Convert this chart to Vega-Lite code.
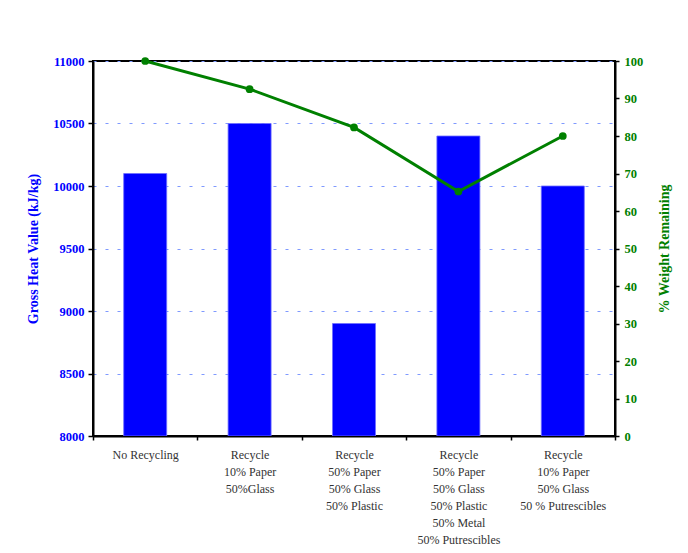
{
  "$schema": "https://vega.github.io/schema/vega-lite/v6.json",
  "width": 522,
  "height": 375,
  "autosize": {"type": "none"},
  "padding": {"left": 93, "top": 61, "right": 73, "bottom": 117},
  "background": "white",
  "config": {
    "view": {"stroke": "black", "strokeWidth": 2},
    "font": "Liberation Serif"
  },
  "data": {
    "values": [
      {"scenario": "No Recycling", "heat": 10100, "weight": 100},
      {"scenario": "Recycle|10% Paper|50%Glass", "heat": 10500, "weight": 92.5},
      {"scenario": "Recycle|50% Paper|50% Glass|50% Plastic", "heat": 8900, "weight": 82.3},
      {"scenario": "Recycle|50% Paper|50% Glass|50% Plastic|50% Metal|50% Putrescibles", "heat": 10400, "weight": 65.2},
      {"scenario": "Recycle|10% Paper|50% Glass|50 % Putrescibles", "heat": 10000, "weight": 80}
    ]
  },
  "encoding": {
    "x": {
      "field": "scenario",
      "type": "nominal",
      "sort": null,
      "scale": {"paddingInner": 0, "paddingOuter": 0},
      "axis": {
        "title": null,
        "labelAngle": 0,
        "labelExpr": "split(datum.label, '|')",
        "labelFont": "Liberation Serif",
        "labelFontSize": 12,
        "labelColor": "#333333",
        "labelLineHeight": 17,
        "labelPadding": 9,
        "tickBand": "extent",
        "tickColor": "black",
        "tickWidth": 1.5,
        "tickSize": 4,
        "domainColor": "black",
        "domainWidth": 2,
        "labelLimit": 200
      }
    }
  },
  "layer": [
    {
      "mark": {"type": "bar", "color": "#0000ff", "size": 43, "stroke": "#6f6fff", "strokeWidth": 0.8, "clip": true},
      "encoding": {
        "y": {
          "field": "heat",
          "type": "quantitative",
          "scale": {"domain": [8000, 11000], "zero": false, "nice": false},
          "axis": {
            "title": "Gross Heat Value (kJ/kg)",
            "titleFont": "Liberation Serif",
            "titleFontSize": 14,
            "titleFontWeight": "bold",
            "titleColor": "#0000ff",
            "titlePadding": 12,
            "format": "d",
            "values": [8000, 8500, 9000, 9500, 10000, 10500, 11000],
            "labelFont": "Liberation Serif",
            "labelFontSize": 12.5,
            "labelFontWeight": "bold",
            "labelColor": "#0000ff",
            "labelPadding": 4,
            "tickColor": "black",
            "tickSize": 5,
            "tickWidth": 1.5,
            "domainColor": "black",
            "domainWidth": 2,
            "grid": true,
            "gridColor": "#7f99ff",
            "gridDash": [3, 9],
            "gridWidth": 1.2
          }
        },
        "y2": {"datum": 8000}
      }
    },
    {
      "mark": {
        "type": "line",
        "color": "#008000",
        "strokeWidth": 3,
        "point": {"filled": true, "size": 60, "color": "#008000"}
      },
      "encoding": {
        "y": {
          "field": "weight",
          "type": "quantitative",
          "scale": {"domain": [0, 100], "nice": false},
          "axis": {
            "orient": "right",
            "title": "% Weight Remaining",
            "titleAngle": 270,
            "titleFont": "Liberation Serif",
            "titleFontSize": 14,
            "titleFontWeight": "bold",
            "titleColor": "#008000",
            "titlePadding": 29,
            "values": [0, 10, 20, 30, 40, 50, 60, 70, 80, 90, 100],
            "labelFont": "Liberation Serif",
            "labelFontSize": 12.5,
            "labelFontWeight": "bold",
            "labelColor": "#008000",
            "labelPadding": 5,
            "tickColor": "black",
            "tickSize": 4,
            "tickWidth": 1.5,
            "domainColor": "black",
            "domainWidth": 2,
            "grid": false
          }
        }
      }
    }
  ],
  "resolve": {"scale": {"y": "independent"}}
}
